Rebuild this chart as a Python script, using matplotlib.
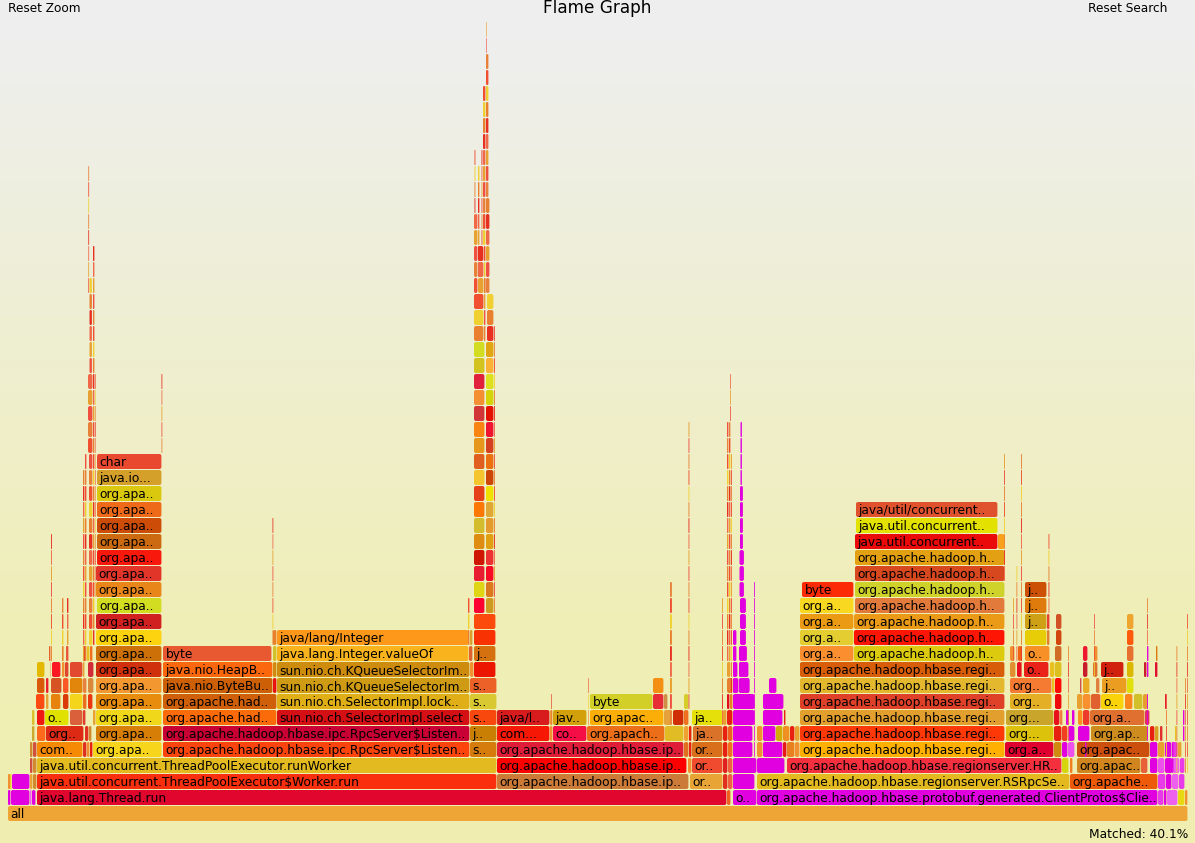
import numpy as np
import matplotlib
matplotlib.use("Agg")
import matplotlib.pyplot as plt
from matplotlib.patches import FancyBboxPatch

# ------------------ DATA (start, width in samples, label) ------------------
H = "org.apache.hadoop.hbase."
frames_0 = [(8, 1180, "all")]
colors_0 = ["#eea535"]
frames_1 = [(8, 3, ""), (11, 19, ""), (30, 2, ""), (32, 4, ""), (37, 690, "java.lang.Thread.run"), (727, 4, ""),
            (733, 24, "o.."), (757, 401, H + "protobuf.generated.ClientProtos$Clie.."), (1158, 6, ""), (1164, 3, ""),
            (1167, 11, ""), (1178, 7, ""), (1185, 3, "")]
colors_1 = ["#e000e0", "#e000e0", "#ee60ee", "#e000e0", "#e0062e", "#ee6020", "#e000e0", "#e000e0", "#e83ae8",
            "#e000e0", "#ee60ee", "#e8d810", "#f09030"]
frames_2 = [(8, 3, ""), (10, 2, ""), (12, 18, ""), (30, 3, ""), (33, 4, ""), (37, 460, "java.util.concurrent.ThreadPoolExecutor$Worker.run"),
            (497, 192, H + "ip.."), (690, 33, "or.."), (723, 5, ""), (728, 5, ""), (733, 22, ""),
            (757, 313, H + "regionserver.RSRpcSe.."), (1070, 88, "org.apache.."), (1158, 8, ""), (1166, 6, ""),
            (1172, 7, ""), (1179, 6, "")]
colors_2 = ["#f09030", "#e8d020", "#e000e0", "#e8a535", "#d08a30", "#fa2f0e", "#cb7a38", "#e8a535", "#e03020", "#f06040",
            "#e000e0", "#e3b91f", "#ec5a0a", "#e83ae8", "#e000e0", "#ee60ee", "#e83ae8"]
frames_3 = [(30, 3, ""), (33, 4, ""), (37, 460, "java.util.concurrent.ThreadPoolExecutor.runWorker"),
            (497, 190, H + "ip.."), (688, 4, ""), (692, 31, "or.."), (723, 5, ""), (728, 5, ""), (733, 24, ""),
            (757, 28, ""), (787, 275, H + "regionserver.HR.."), (1062, 7, ""), (1070, 3, ""), (1077, 64, "org.apac.."),
            (1141, 7, ""), (1150, 8, ""), (1158, 7, ""), (1165, 8, ""), (1173, 7, ""), (1180, 5, "")]
colors_3 = ["#d05040", "#d08a30", "#e3bb20", "#ff0000", "#f09030", "#f04b2e", "#e02020", "#f06040", "#e000e0",
            "#e000e0", "#f4303e", "#d6d60e", "#f08020", "#d0851f", "#e8603a", "#e000e0", "#ee50ee", "#e000e0", "#ee60ee", "#e83ae8"]
frames_4 = [(30, 3, ""), (33, 4, ""), (37, 46, "com.."), (83, 4, ""), (87, 3, ""), (90, 3, ""), (93, 69, "org.apa.."),
            (163, 307, H + "ipc.RpcServer$Listen.."), (470, 27, "s.."), (497, 187, H + "ip.."), (684, 5, ""),
            (689, 3, ""), (692, 31, "or.."), (723, 5, ""), (728, 5, ""), (733, 20, ""), (757, 6, ""), (763, 20, ""),
            (783, 4, ""), (787, 8, ""), (795, 5, ""), (800, 205, H + "regi.."), (1005, 49, "org.a.."), (1054, 8, ""),
            (1062, 6, ""), (1068, 7, ""), (1077, 73, "org.apac.."), (1150, 8, ""), (1158, 7, ""), (1165, 7, ""), (1172, 6, ""), (1178, 4, "")]
colors_4 = ["#d08a30", "#d05040", "#f78a05", "#e03020", "#f09030", "#e82010", "#f7d51d", "#fb450d", "#d67c0d", "#e01d38",
            "#e07020", "#e82010", "#d96f1a", "#e82010", "#f07020", "#e000e0", "#f09030", "#e000e0", "#e81818", "#e88020",
            "#f09030", "#ffb000", "#e00030", "#d08a10", "#e000e0", "#ee50ee", "#cc4f0e", "#e000e0", "#e8a030", "#e000e0", "#e83ae8", "#e8a030"]
frames_5 = [(32, 3, ""), (37, 9, ""), (46, 38, "org.."), (85, 4, ""), (89, 3, ""), (96, 66, "org.apa.."),
            (163, 307, H + "ipc.RpcServer$Listen.."), (470, 27, "j.."), (497, 53, "com..."), (550, 3, ""), (553, 34, "co.."),
            (587, 78, "org.apach.."), (665, 19, ""), (684, 5, ""), (689, 3, ""), (693, 30, "ja.."), (723, 5, ""), (728, 5, ""),
            (733, 20, ""), (757, 6, ""), (763, 13, ""), (776, 7, ""), (783, 7, ""), (790, 5, ""), (795, 5, ""),
            (800, 205, H + "regi.."), (1006, 48, "org..."), (1054, 8, ""), (1062, 6, ""), (1068, 7, ""), (1078, 12, ""),
            (1091, 57, "org.ap.."), (1150, 5, ""), (1155, 4, ""), (1160, 3, ""), (1175, 2, ""), (1183, 2, "")]
colors_5 = ["#cbaa2f", "#fd6a1c", "#dd2a15", "#e03020", "#d08a30", "#d77e06", "#c90033", "#c97f04", "#f61704", "#f09030",
            "#f50d45", "#ec6e19", "#e1bc24", "#f0a030", "#e82010", "#db7229", "#e82010", "#f06020", "#e000e0", "#f09030",
            "#e000e0", "#d2ab09", "#f09020", "#e82010", "#e8a030", "#fe3807", "#ddc20c", "#e82010", "#f04020", "#e000e0",
            "#e000e0", "#ce8c1f", "#e82010", "#d8a020", "#e03030", "#e8c020", "#e000e0"]
frames_6 = [(32, 3, ""), (37, 8, ""), (45, 24, "o.."), (70, 13, ""), (83, 3, ""), (93, 3, ""), (96, 66, "org.apa.."),
            (163, 114, "org.apache.had.."), (277, 193, "sun.nio.ch.SelectorImpl.select"), (470, 27, "s.."), (497, 53, "java/l.."),
            (550, 3, ""), (553, 34, "jav.."), (590, 74, "org.apac.."), (664, 8, ""), (673, 11, ""), (684, 5, ""),
            (692, 31, "ja.."), (723, 4, ""), (727, 6, ""), (733, 22, ""), (763, 20, ""), (784, 2, ""), (800, 205, H + "regi.."),
            (1006, 48, "org..."), (1054, 6, ""), (1060, 3, ""), (1066, 3, ""), (1072, 3, ""), (1078, 5, ""), (1083, 7, ""),
            (1090, 55, "org.a.."), (1145, 5, ""), (1183, 2, "")]
colors_6 = ["#dbbf2a", "#ee1a12", "#e1e100", "#d9603a", "#e03b2c", "#e8a030", "#f0d719", "#fc6b0a", "#d51015", "#f8480d",
            "#d81b1d", "#e8a030", "#d2a00b", "#fbae07", "#e5a23b", "#cf2e06", "#f07020", "#e6e00a", "#e8a030", "#e82010",
            "#e000e0", "#e000e0", "#e82010", "#e39f2e", "#c9a52c", "#e8101a", "#f08040", "#e000e0", "#e000e0", "#fb8f1f",
            "#ed3a2a", "#e07030", "#e03060", "#e000e0"]
frames_7 = [(36, 9, ""), (46, 3, ""), (51, 10, ""), (63, 6, ""), (70, 13, ""), (83, 4, ""), (88, 5, ""), (96, 66, "org.apa.."),
            (163, 114, "org.apache.had.."), (277, 193, "sun.nio.ch.SelectorImpl.lock.."), (470, 27, "s.."), (590, 63, "byte"),
            (653, 11, ""), (664, 4, ""), (684, 5, ""), (727, 3, ""), (730, 3, ""), (733, 22, ""), (763, 21, ""),
            (800, 205, H + "regi.."), (1010, 42, "org.."), (1055, 7, ""), (1077, 6, ""), (1083, 8, ""), (1091, 10, ""),
            (1101, 23, "o.."), (1125, 8, ""), (1134, 9, ""), (1143, 5, ""), (1165, 2, "")]
colors_7 = ["#fb4b12", "#e6a032", "#e8820f", "#d93a08", "#f5d51c", "#e87020", "#e9370f", "#e78c0d", "#cf5f08", "#e0ae16",
            "#d9c832", "#d2cf29", "#e72d36", "#d08d44", "#d6cc2a", "#e01020", "#e88020", "#e000e0", "#e000e0", "#de4128",
            "#e4af25", "#ee0a0a", "#e8a030", "#f89030", "#e06030", "#fbd30a", "#f8861a", "#d2c02a", "#e6a030", "#e82030"]
frames_8 = [(37, 8, ""), (46, 3, ""), (51, 11, ""), (63, 6, ""), (70, 13, ""), (83, 4, ""), (88, 6, ""), (96, 66, "org.apa.."),
            (163, 110, "java.nio.ByteBu.."), (273, 4, ""), (277, 193, "sun.nio.ch.KQueueSelectorIm.."), (470, 27, "s.."), (653, 11, ""),
            (670, 2, ""), (727, 6, ""), (733, 6, ""), (739, 11, ""), (769, 8, ""), (800, 205, H + "regi.."), (1010, 42, "org.."),
            (1052, 3, ""), (1055, 7, ""), (1080, 2, ""), (1083, 7, ""), (1096, 4, ""), (1102, 25, "j.."), (1127, 7, "")]
colors_8 = ["#d9590a", "#ed1d2e", "#d65324", "#fc5727", "#e1860a", "#e88040", "#d8893c", "#f39831", "#cd5f06", "#e81010", "#cf9a14",
            "#ec6127", "#f38f12", "#e06030", "#e88030", "#e000e0", "#e000e0", "#e000e0", "#e3b82e", "#f57a32", "#e8c020", "#ff0a05",
            "#d05050", "#eaab25", "#e08040", "#eb9d22", "#dfe00c"]
frames_9 = [(37, 8, ""), (50, 1, ""), (52, 9, ""), (62, 3, ""), (65, 4, ""), (70, 13, ""), (83, 2, ""), (88, 6, ""),
            (96, 66, "org.apa.."), (163, 110, "java.nio.HeapB.."), (273, 4, ""), (277, 193, "sun.nio.ch.KQueueSelectorIm.."),
            (470, 4, ""), (474, 22, ""), (727, 4, ""), (733, 5, ""), (739, 10, ""), (800, 205, H + "regi.."), (1010, 6, ""),
            (1017, 5, ""), (1024, 25, "o.."), (1050, 5, ""), (1055, 7, ""), (1083, 5, ""), (1093, 5, ""), (1101, 23, "j.."),
            (1127, 7, ""), (1144, 3, ""), (1147, 2, ""), (1155, 3, "")]
colors_9 = ["#e3b800", "#e8a060", "#fc1725", "#f09030", "#e0452f", "#e14a2e", "#e8a030", "#d22c39", "#d1300d", "#fb670d",
            "#d08a10", "#cd8c0e", "#f09030", "#ec1600", "#e8a030", "#e000e0", "#e000e0", "#d85d08", "#e09030", "#e81020",
            "#e9231a", "#e9c11e", "#ddc020", "#c91f2c", "#e07030", "#d2200f", "#dbb800", "#c91f2c", "#e000e0", "#e01030"]
frames_10 = [(49, 2, ""), (62, 2, ""), (66, 2, ""), (83, 3, ""), (87, 3, ""), (90, 3, ""), (96, 66, "org.apa.."), (163, 109, "byte"),
             (273, 4, ""), (277, 192, "java.lang.Integer.valueOf"), (469, 4, ""), (474, 22, "j.."), (800, 54, "org.a.."),
             (854, 151, "org.apache.hadoop.h.."), (1010, 5, ""), (1018, 4, ""), (1025, 25, "o.."), (1055, 7, ""), (1083, 5, ""),
             (1094, 4, ""), (1127, 7, ""), (1147, 2, ""), (1156, 2, "")]
colors_10 = ["#e6602a", "#e8a030", "#e06030", "#e02020", "#e8c020", "#f07020", "#cc7007", "#e95931", "#d4c02a", "#f8b31d",
             "#e06030", "#d5710f", "#fb8f30", "#dcca0e", "#f09030", "#f06010", "#f79026", "#cf6b25", "#f01830", "#f09030",
             "#e57030", "#e000e0", "#d87a10"]
frames_11 = [(96, 66, "org.apa.."), (273, 4, ""), (277, 192, "java/lang/Integer"), (470, 3, ""), (474, 22, ""), (800, 54, "org.a.."),
             (854, 151, "org.apache.hadoop.h.."), (1025, 22, ""), (1047, 3, ""), (1056, 6, ""), (1127, 7, "")]
colors_11 = ["#fcd30e", "#e8802a", "#fd981a", "#d9a030", "#f83202", "#e3cd30", "#ff1503", "#e6cd08", "#e08030", "#d2450d", "#fd5a0e"]
frames_12 = [(96, 66, "org.apa.."), (474, 22, ""), (800, 54, "org.a.."), (854, 151, "org.apache.hadoop.h.."), (1025, 22, "j.."),
             (1047, 3, ""), (1056, 6, ""), (1127, 7, "")]
colors_12 = ["#d12020", "#fc4a0d", "#eb9a13", "#eb9a18", "#cda015", "#e84030", "#d25226", "#eea52f"]
frames_13 = [(97, 65, "org.apa.."), (800, 54, "org.a.."), (855, 150, "org.apache.hadoop.h.."), (1025, 22, "j..")]
colors_13 = ["#d2dd22", "#f8d820", "#e17a3a", "#df7a0c"]
frames_14 = [(96, 66, "org.apa.."), (802, 52, "byte"), (855, 150, "org.apache.hadoop.h.."), (1025, 22, "j..")]
colors_14 = ["#e8861a", "#fd2a06", "#cfd22a", "#cc5006"]
frames_15 = [(96, 66, "org.apa.."), (855, 150, "org.apache.hadoop.h..")]
colors_15 = ["#e03528", "#d8481e"]
frames_16 = [(97, 65, "org.apa.."), (855, 150, "org.apache.hadoop.h..")]
colors_16 = ["#f8180c", "#e3a012"]
frames_17 = [(97, 65, "org.apa.."), (855, 143, "java.util.concurrent.."), (998, 7, "")]
colors_17 = ["#cb6a10", "#ea0a0a", "#f9a01c"]
frames_18 = [(97, 65, "org.apa.."), (856, 142, "java.util.concurrent..")]
colors_18 = ["#cc4c08", "#e3e100"]
frames_19 = [(97, 65, "org.apa.."), (856, 142, "java/util/concurrent..")]
colors_19 = ["#ee6a18", "#e0522e"]
frames_20 = [(97, 65, "org.apa..")]
colors_20 = ["#d9c80e"]
frames_21 = [(97, 65, "java.io...")]
colors_21 = ["#d4a029"]
frames_22 = [(97, 65, "char")]
colors_22 = ["#e8492f"]

# main tower over the selector frames, depth 13..29
tower_depths = list(range(13, 30))
tower_left = ["#fd0230", "#e0d514", "#e81c30", "#ce1602", "#de8c12", "#d3bd2f", "#fc7706", "#e64018", "#f5c530",
              "#e05e20", "#e8971d", "#fa8412", "#d13537", "#f58f33", "#e1213a", "#d2c31e", "#d2dd22"]
tower_right = ["#cf9a20", "#db7a1c", "#f60a24", "#ec3232", "#e0a012", "#e59a2e", "#dfa734", "#f0e000", "#cc4606",
               "#ea7010", "#d54020", "#ef1530", "#e51100", "#d4d408", "#dde01c", "#fab235", "#e0a510"]

# narrow stacks: start, width, first depth, last depth
stacks = [(88.3, 1.4, 33, 40), (89.5, 3, 28, 33), (88, 5, 23, 27), (93, 2, 11, 35), (85, 2, 10, 22), (83, 2, 10, 21), (89, 4, 11, 22),
          (95, 1.2, 14, 27), (161.5, 1.4, 23, 27), (51, 1.5, 10, 17), (62, 2, 10, 13), (67, 2, 10, 13), (272.5, 1.4, 11, 18),
          (468, 2, 11, 13), (494, 1.5, 13, 30), (474, 4, 36, 37), (474.5, 1.5, 38, 41), (478, 2, 34, 40), (481.5, 1.5, 36, 41),
          (474, 10, 30, 32), (484, 2, 30, 33), (487, 7, 30, 32), (474, 4, 33, 35), (478, 6, 33, 35), (484, 2, 33, 35),
          (486, 4, 33, 38), (483, 3, 36, 45), (486, 3, 39, 47), (486, 1.2, 48, 49), (551, 1.2, 6, 7), (588, 1.2, 6, 8), (670, 2.5, 6, 14),
          (688.5, 1.5, 7, 24), (722, 1.5, 6, 13), (727, 2, 10, 24), (729, 2, 10, 24), (730, 1.4, 25, 27), (731, 1.5, 8, 22),
          (1004, 1.5, 15, 22), (1021, 1.5, 9, 22), (1016.5, 1.4, 10, 15), (1013, 1.4, 10, 13), (1048.5, 1.5, 13, 17),
          (1068, 1.4, 5, 10), (1094, 1.4, 9, 12), (1147, 1.4, 10, 13), (1176.5, 1.4, 3, 10), (1187, 1.4, 3, 12), (1185, 1.4, 3, 8),
          (1166, 1.5, 4, 7)]
stack_colors = ["#f05040", "#e8a030", "#f06848", "#e83020", "#e88030", "#f0d030", "#f05030", "#e8803a"]

# magenta frames: start, width, first depth, last depth
magenta_stacks = [(740.5, 2, 21, 24), (740, 3.5, 17, 20), (739.5, 5, 14, 16), (740, 6.5, 11, 13), (739, 8.5, 9, 10), (739, 11, 8, 8), (733, 4, 8, 11),
                  (754, 1.4, 4, 14), (1147, 1.5, 9, 10), (1147, 1.5, 5, 7), (1172, 2, 3, 4), (1085, 2, 4, 5)]

levels = [(frames_0, colors_0), (frames_1, colors_1), (frames_2, colors_2), (frames_3, colors_3), (frames_4, colors_4),
          (frames_5, colors_5), (frames_6, colors_6), (frames_7, colors_7), (frames_8, colors_8), (frames_9, colors_9),
          (frames_10, colors_10), (frames_11, colors_11), (frames_12, colors_12), (frames_13, colors_13),
          (frames_14, colors_14), (frames_15, colors_15), (frames_16, colors_16), (frames_17, colors_17),
          (frames_18, colors_18), (frames_19, colors_19), (frames_20, colors_20), (frames_21, colors_21), (frames_22, colors_22)]

# ------------------ FIGURE ------------------
plt.rcParams["font.family"] = ["DejaVu Sans"]
fig = plt.figure(figsize=(11.95, 8.43), dpi=100)
ax = fig.add_axes([0, 0, 1, 1])
# one depth is 16 px, depth 0 sits at 806..821 px
ax.set_xlim(0, 1195)
ax.set_ylim(-22 / 16, 821 / 16)
ax.axis("off")

grad = np.interp(np.linspace(0, 1, 256), [0, 0.05, 0.75, 1], [0, 0, 0.9, 1])[:, None]
top = np.array([238, 238, 238]) / 255
bottom = np.array([240, 238, 176]) / 255
ax.imshow(top + grad[:, :, None] * (bottom - top), extent=[0, 1195, -22 / 16, 821 / 16], aspect="auto", zorder=0)


def frame(x, w, depth, color, label="", z=2):
    w = max(w - 0.6, 0.6)
    r = min(2, w / 2)
    box = FancyBboxPatch((x, depth), w, 15 / 16, boxstyle=f"round,pad=0,rounding_size={r}",
                         mutation_aspect=1 / 16, fc=color, ec="none", zorder=z, snap=False)
    ax.add_patch(box)
    if label:
        ax.text(x + 2.5, depth + 0.39, label, fontsize=8.85, color="black", va="center", ha="left", zorder=5)


for depth, (row, cols) in enumerate(levels):
    for (x, w, label), c in zip(row, cols):
        frame(x, w, depth, c, label)

for d, cl, cr in zip(tower_depths, tower_left, tower_right):
    frame(474, 11, d, cl)
    frame(486, 8, d, cr)

n = 0
for x, w, d0, d1 in stacks:
    for d in range(d0, d1 + 1):
        frame(x, w, d, stack_colors[n % len(stack_colors)], z=3)
        n += 1

for x, w, d0, d1 in magenta_stacks:
    for d in range(d0, d1 + 1):
        frame(x, w, d, "#e000e0", z=3)

ax.text(597, 821 / 16 - 8 / 16, "Flame Graph", fontsize=12.2, ha="center", va="center", color="black")
ax.text(8, 821 / 16 - 9 / 16, "Reset Zoom", fontsize=8.7, ha="left", va="center", color="black")
ax.text(1088, 821 / 16 - 9 / 16, "Reset Search", fontsize=8.7, ha="left", va="center", color="black")
ax.text(1188, -13 / 16, "Matched: 40.1%", fontsize=8.85, ha="right", va="center", color="black")

fig.savefig("out.png", dpi=100)
